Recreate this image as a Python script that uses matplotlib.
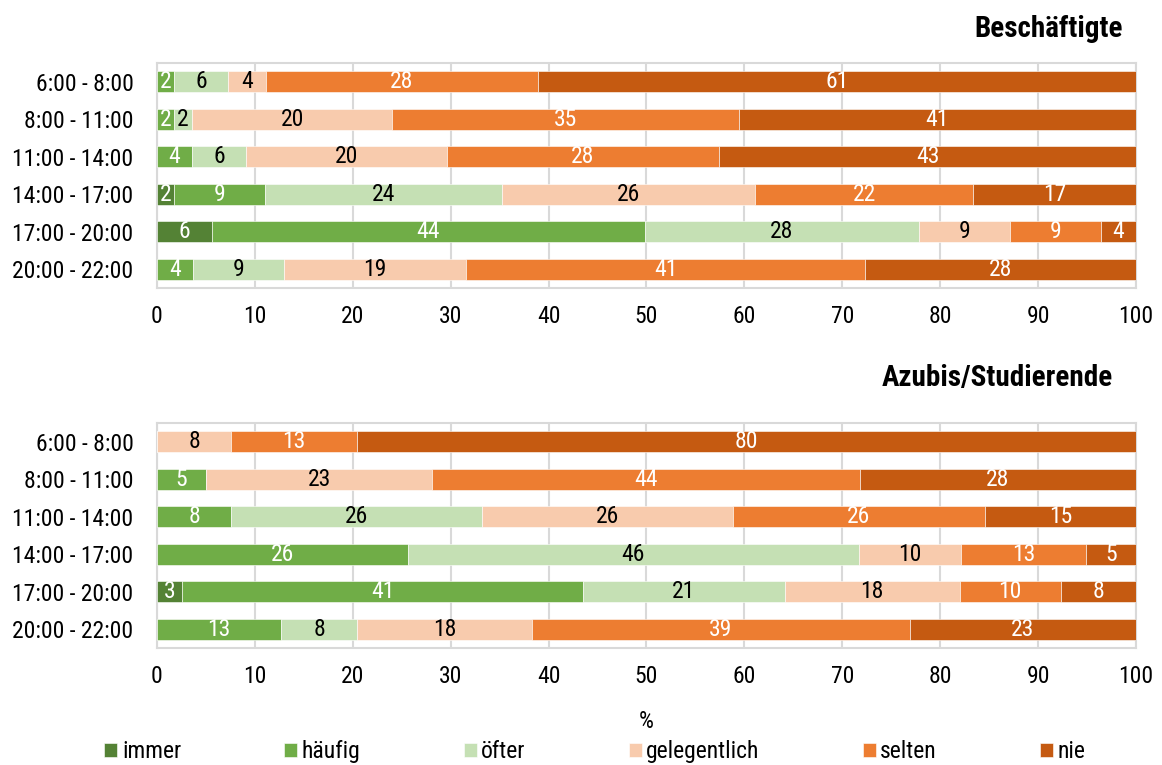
import numpy as np
import matplotlib
matplotlib.use("Agg")
import matplotlib.pyplot as plt

plt.rcParams['font.family'] = ['Roboto Condensed', 'Liberation Sans Narrow', 'Roboto', 'DejaVu Sans']

times = ["6:00 - 8:00", "8:00 - 11:00", "11:00 - 14:00", "14:00 - 17:00", "17:00 - 20:00", "20:00 - 22:00"]
cats = ["immer", "häufig", "öfter", "gelegentlich", "selten", "nie"]
colors = ["#548235", "#70AD47", "#C5E0B4", "#F8CBAD", "#ED7D31", "#C55A11"]
txtcol = ["white", "white", "black", "black", "white", "white"]

# rows = time slots, columns = categories (percent)
besch = np.array([
    [0.0, 1.7, 5.6, 3.8, 27.8, 61.1],
    [0.0, 1.7, 1.9, 20.4, 35.4, 40.6],
    [0.0, 3.6, 5.5, 20.5, 27.8, 42.6],
    [1.7, 9.3, 24.2, 25.9, 22.3, 16.6],
    [5.6, 44.2, 28.0, 9.3, 9.3, 3.6],
    [0.0, 3.7, 9.3, 18.6, 40.7, 27.7],
])
azubi = np.array([
    [0.0, 0.0, 0.0, 7.6, 12.8, 79.6],
    [0.0, 5.0, 0.0, 23.1, 43.7, 28.2],
    [0.0, 7.6, 25.6, 25.6, 25.8, 15.4],
    [0.0, 25.6, 46.1, 10.4, 12.8, 5.1],
    [2.6, 40.9, 20.6, 17.9, 10.3, 7.7],
    [0.0, 12.7, 7.7, 17.9, 38.6, 23.1],
])

fs = 17
fig = plt.figure(figsize=(11.62, 7.65), dpi=100)
ax1 = fig.add_axes([0.1351, 0.6235, 0.8425, 0.294])
ax2 = fig.add_axes([0.1351, 0.1529, 0.8425, 0.294])

y = np.arange(len(times))
for ax, data in [(ax1, besch), (ax2, azubi)]:
    left = np.zeros(len(times))
    for j, c in enumerate(cats):
        vals = data[:, j]
        bars = ax.barh(y, vals, left=left, height=0.56, color=colors[j], label=c,
                       edgecolor="white", linewidth=0.4, zorder=3)
        for b, v in zip(bars, vals):
            if v > 0:
                ax.text(b.get_x() + b.get_width() / 2, b.get_y() + b.get_height() / 2,
                        f"{v:.0f}", ha="center", va="center", color=txtcol[j],
                        fontsize=fs, zorder=4)
        left += vals
    ax.set_xlim(0, 100)
    ax.set_ylim(5.5, -0.5)
    ax.set_yticks(y)
    ax.set_yticklabels(times)
    ax.set_xticks(np.arange(0, 101, 10))
    ax.tick_params(axis="y", length=0, pad=17, labelsize=fs)
    ax.tick_params(axis="x", length=0, pad=12, labelsize=fs)
    ax.grid(axis="x", color="#d9d9d9", linewidth=1.5, zorder=0)
    for s in ax.spines.values():
        s.set_color("#d9d9d9")
        s.set_linewidth(1.5)

fig.text(0.9665, 0.952, "Beschäftigte", ha="right", va="baseline", fontsize=21, fontweight="bold")
fig.text(0.958, 0.4955, "Azubis/Studierende", ha="right", va="baseline", fontsize=21, fontweight="bold")
ax2.set_xlabel("%", fontsize=fs, labelpad=16)

handles, labels = ax1.get_legend_handles_labels()
fig.legend(handles, labels, loc="center", bbox_to_anchor=(0.512, 0.017), ncol=6,
           frameon=False, fontsize=fs, handlelength=0.55, handleheight=0.55,
           handletextpad=0.2, columnspacing=4.36, borderaxespad=0)

fig.savefig("out.png", dpi=100)
